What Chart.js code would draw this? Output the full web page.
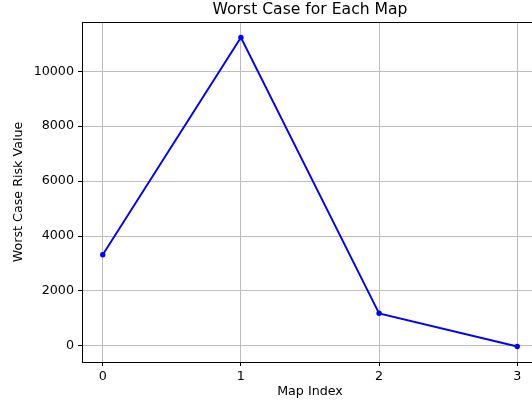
<!doctype html>
<html lang="en">
    <head>
        <meta charset="UTF-8" />
        <title>Worst Case for Each Map</title>
        <style>
            html, body { margin: 0; padding: 0; overflow: hidden; background: #fff; }
            canvas { display: block; }
        </style>
    </head>
    <body>
        <canvas id="riskChart" width="560" height="409"></canvas>

        <script src="https://cdn.jsdelivr.net/npm/chart.js"></script>
        <script>
            // values
            const mapIndex = [0, 1, 2, 3];
            const worstCase = [3320, 11230, 1185, -25];
            const xTicks = [0, 1, 2, 3];
            const yTicks = [0, 2000, 4000, 6000, 8000, 10000];

            const titleText = "Worst Case for Each Map";
            const fontFamily = "'DejaVu Sans', sans-serif";

            // matplotlib style 5% margins
            const xSpan = Math.max(...mapIndex) - Math.min(...mapIndex);
            const ySpan = Math.max(...worstCase) - Math.min(...worstCase);

            // title centred over the axes + top spine
            const axesDecor = {
                id: "axesDecor",
                afterDraw(chart) {
                    const { ctx, chartArea } = chart;
                    ctx.save();
                    ctx.strokeStyle = "#000";
                    ctx.lineWidth = 1;
                    ctx.beginPath();
                    ctx.moveTo(chartArea.left, chartArea.top + 0.5);
                    ctx.lineTo(chartArea.right, chartArea.top + 0.5);
                    ctx.stroke();

                    ctx.fillStyle = "#000";
                    ctx.font = "15.6px " + fontFamily;
                    ctx.textAlign = "center";
                    ctx.textBaseline = "alphabetic";
                    ctx.fillText(titleText, (chartArea.left + chartArea.right) / 2, 13.8);
                    ctx.restore();
                },
            };

            const tickFont = { family: fontFamily, size: 12.7 };

            new Chart(document.getElementById("riskChart").getContext("2d"), {
                type: "line",
                data: {
                    datasets: [
                        {
                            data: mapIndex.map((x, i) => ({ x: x, y: worstCase[i] })),
                            borderColor: "#0000ff",
                            backgroundColor: "#0000ff",
                            borderWidth: 1.9,
                            pointRadius: 2.7,
                            pointBorderWidth: 0,
                            pointHoverRadius: 2.7,
                            tension: 0,
                            fill: false,
                        },
                    ],
                },
                options: {
                    responsive: false,
                    animation: false,
                    layout: { padding: { left: 0, right: 22, top: 22, bottom: 0 } },
                    plugins: {
                        legend: { display: false },
                        title: { display: false },
                        tooltip: { enabled: false },
                    },
                    scales: {
                        x: {
                            type: "linear",
                            min: Math.min(...mapIndex) - 0.05 * xSpan,
                            max: Math.max(...mapIndex) + 0.05 * xSpan,
                            afterBuildTicks: (s) => { s.ticks = xTicks.map((v) => ({ value: v })); },
                            afterFit: (s) => { s.height = 47; },
                            ticks: { color: "#000", font: tickFont, padding: 3, maxRotation: 0, callback: (v) => String(v) },
                            grid: { color: "#bdbdbd", lineWidth: 1, tickLength: 4, tickColor: "#000" },
                            border: { color: "#000", width: 1 },
                            title: {
                                display: true,
                                text: "Map Index",
                                color: "#000",
                                font: tickFont,
                                padding: { top: 0, bottom: 9.5 },
                            },
                        },
                        y: {
                            type: "linear",
                            min: Math.min(...worstCase) - 0.05 * ySpan,
                            max: Math.max(...worstCase) + 0.05 * ySpan,
                            afterBuildTicks: (s) => { s.ticks = yTicks.map((v) => ({ value: v })); },
                            afterFit: (s) => { s.width = 82; },
                            ticks: { color: "#000", font: tickFont, padding: 4, callback: (v) => String(v) },
                            grid: { color: "#bdbdbd", lineWidth: 1, tickLength: 4, tickColor: "#000" },
                            border: { color: "#000", width: 1 },
                            title: {
                                display: true,
                                text: "Worst Case Risk Value",
                                color: "#000",
                                font: tickFont,
                                padding: { top: 11, bottom: 0 },
                            },
                        },
                    },
                },
                plugins: [axesDecor],
            });
        </script>
    </body>
</html>
